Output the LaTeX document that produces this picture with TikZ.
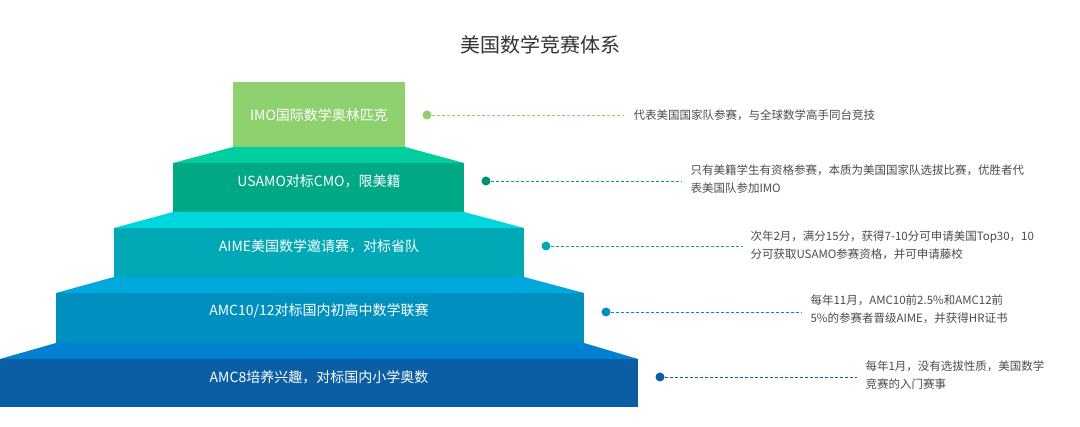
\documentclass[tikz,border=0pt]{standalone}
\usepackage{fontspec}
\setmainfont{Noto Sans CJK SC}
\begin{document}
\begin{tikzpicture}[x=1pt,y=-1pt,
  lbl/.style={text=white,font=\fontsize{14}{16}\selectfont},
  desc/.style={text=black!70,font=\fontsize{11.5}{18}\selectfont,anchor=west,align=left},
  dot/.style={circle,inner sep=0pt,minimum size=9pt},
  lead/.style={densely dashed,line width=0.6pt}]
\useasboundingbox (0,0) rectangle (1080,427);
\fill[white] (0,0) rectangle (1080,427);
\definecolor{cA}{HTML}{8FD16E}
\definecolor{cBt}{HTML}{00CE9E}\definecolor{cB}{HTML}{00A884}
\definecolor{cCt}{HTML}{00D6DE}\definecolor{cC}{HTML}{00A9B5}
\definecolor{cDt}{HTML}{00A8DE}\definecolor{cD}{HTML}{0090BF}
\definecolor{cEt}{HTML}{0080D0}\definecolor{cE}{HTML}{0B5EA4}
\node[text=black!80,font=\fontsize{20}{24}\selectfont] (title) at (540,45) {美国数学竞赛体系};
% level 1
\fill[cA] (233,82) rectangle (405,147);
\node[lbl] (l1) at (319,115) {IMO国际数学奥林匹克};
% level 2
\fill[cBt] (233,147) -- (405,147) -- (464,163) -- (173,163) -- cycle;
\fill[cB] (173,163) rectangle (464,212);
\node[lbl] (l2) at (319,181) {USAMO对标CMO，限美籍};
% level 3
\fill[cCt] (173,212) -- (464,212) -- (524,228) -- (114,228) -- cycle;
\fill[cC] (114,228) rectangle (524,277);
\node[lbl] (l3) at (319,246) {AIME美国数学邀请赛，对标省队};
% level 4
\fill[cDt] (114,277) -- (524,277) -- (584,293) -- (56,293) -- cycle;
\fill[cD] (56,293) rectangle (584,343);
\node[lbl] (l4) at (319,311) {AMC10/12对标国内初高中数学联赛};
% level 5
\fill[cEt] (56,343) -- (584,343) -- (638,359) -- (0,359) -- cycle;
\fill[cE] (0,359) rectangle (638,407);
\node[lbl] (l5) at (319,377) {AMC8培养兴趣，对标国内小学奥数};
% dots and leaders
\node[dot,fill=cA] (d1) at (427,115) {};
\coordinate (e1) at (624,115);
\draw[lead,cA] (d1) -- (e1);
\node[desc] (t1) at (630,115) {代表美国国家队参赛，与全球数学高手同台竞技};
\node[dot,fill=cB!85!black] (d2) at (486,181) {};
\coordinate (e2) at (682,181);
\draw[lead,cB] (d2) -- (e2);
\node[desc] (t2) at (687,179) {只有美籍学生有资格参赛，本质为美国国家队选拔比赛，优胜者代\\表美国队参加IMO};
\node[dot,fill=cC] (d3) at (546,246) {};
\coordinate (e3) at (743,246);
\draw[lead,cC] (d3) -- (e3);
\node[desc] (t3) at (747,245) {次年2月，满分15分，获得7-10分可申请美国Top30，10\\分可获取USAMO参赛资格，并可申请藤校};
\node[dot,fill=cD] (d4) at (606,312) {};
\coordinate (e4) at (801,312);
\draw[lead,cD] (d4) -- (e4);
\node[desc] (t4) at (807,309) {每年11月，AMC10前2.5\%和AMC12前\\5\%的参赛者晋级AIME，并获得HR证书};
\node[dot,fill=cE] (d5) at (660,377) {};
\coordinate (e5) at (857,377);
\draw[lead,cE] (d5) -- (e5);
\node[desc] (t5) at (862,375) {每年1月，没有选拔性质，美国数学\\竞赛的入门赛事};
\end{tikzpicture}
\end{document}
